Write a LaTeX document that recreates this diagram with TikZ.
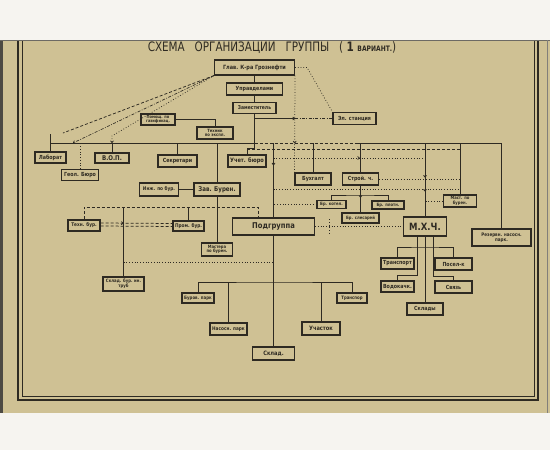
\documentclass[tikz,border=0pt]{standalone}
\usepackage{fontspec}
\usetikzlibrary{arrows.meta,decorations.markings}
\newfontfamily\bx[FakeStretch=0.85]{DejaVu Sans}
\newfontfamily\ttlfont[FakeStretch=0.8]{DejaVu Sans}
\definecolor{paper}{HTML}{CFC194}
\definecolor{ink}{HTML}{2E2A22}
\definecolor{pagew}{HTML}{F6F4F0}
\begin{document}
\begin{tikzpicture}[x=1pt,y=-1pt,
  box/.style={draw=ink, line width=1.1pt, fill=paper, inner sep=0pt, align=center, text=ink,
    font=\bx\bfseries\fontsize{5}{5.4}\selectfont},
  bb/.style={font=\bx\bfseries\fontsize{5.6}{6}\selectfont},
  ln/.style={draw=ink, line width=0.9pt},
  dl/.style={draw=ink, line width=0.75pt, dotted},
  dsh/.style={draw=ink, line width=0.75pt, dash pattern=on 3pt off 2pt},
  dd/.style={draw=ink, line width=0.65pt, dash pattern=on 3pt off 1.5pt on 0.8pt off 1.5pt},
  marr/.style={postaction={decorate,decoration={markings,mark=at position #1 with {\arrow{To[length=2.5pt,width=3.5pt]}}}}},
  tip/.style={-{To[length=2.5pt,width=3.5pt]}}
]
\useasboundingbox (0,0) rectangle (550,450);
% page
\fill[pagew] (0,0) rectangle (550,450);
\fill[paper] (0,40) rectangle (550,413);
\fill[ink!85] (0,40) rectangle (3,413);
\draw[ink!70, line width=0.8pt] (0,40.5) -- (550,40.5);
\draw[ink!60, line width=1pt] (547,40) -- (547,413);
% frame
\draw[ink, line width=1.3pt] (18,41) -- (18,400) -- (538,400) -- (538,41);
\draw[ink, line width=1pt] (22,41) -- (22,396) -- (534,396) -- (534,41);
% title
\node[font=\ttlfont\fontsize{13}{13}\selectfont, text=ink] (title) at (272,47.5)
  {СХЕМА\ \ \ ОРГАНИЗАЦИИ\ \ \ ГРУППЫ\ \ \ ( {\bfseries 1 \fontsize{7.5}{7.5}\selectfont ВАРИАНТ.})};
% nodes
\node[box,minimum width=80pt,minimum height=15pt,font=\bx\bfseries\fontsize{5.8}{6}\selectfont] (glav) at (254.5,67.5) {Глав. К-ра Грознефти};
\node[box,bb,minimum width=56pt,minimum height=12pt] (upr) at (254.5,89) {Управделами};
\node[box,bb,minimum width=43pt,minimum height=11pt,font=\bx\bfseries\fontsize{5.3}{6}\selectfont] (zam) at (254.5,108) {Заместитель};
\node[box,bb,minimum width=43pt,minimum height=12pt] (elst) at (354.5,118.5) {Эл. станция};
\node[box,minimum width=34pt,minimum height=11pt,font=\bx\bfseries\fontsize{4.2}{4.3}\selectfont] (pom) at (158,119.5) {Помощ. по\\газификац.};
\node[box,minimum width=36pt,minimum height=12pt,font=\bx\bfseries\fontsize{4.4}{4.6}\selectfont] (tech) at (215,133) {Техник\\по экспл.};
\node[box,bb,minimum width=31pt,minimum height=11pt] (lab) at (50.5,157.5) {Лаборат};
\node[box,bb,minimum width=37pt,minimum height=11pt] (geol) at (80,175) {Геол. Бюро};
\node[box,minimum width=34pt,minimum height=10pt,font=\bx\bfseries\fontsize{6.5}{6.5}\selectfont] (vop) at (112,158) {В.О.П.};
\node[box,bb,minimum width=39pt,minimum height=12pt] (sekr) at (177.5,161) {Секретари};
\node[box,minimum width=38pt,minimum height=12pt,font=\bx\bfseries\fontsize{6}{6}\selectfont] (uchet) at (247,161) {Учет. бюро};
\node[box,bb,minimum width=36pt,minimum height=12pt] (buh) at (313,179) {Бухгалт};
\node[box,bb,minimum width=36pt,minimum height=12pt] (stroy) at (360.5,179) {Строй. ч.};
\node[box,minimum width=39pt,minimum height=13pt] (inzh) at (159,189.5) {Инж. по бур.};
\node[box,minimum width=46pt,minimum height=13pt,font=\bx\bfseries\fontsize{6.5}{6.5}\selectfont] (zav) at (217,189.5) {Зав. Бурен.};
\node[box,minimum width=29pt,minimum height=8pt,font=\bx\bfseries\fontsize{4.4}{4.5}\selectfont] (brk) at (331.5,204.5) {Бр. котел.};
\node[box,minimum width=32pt,minimum height=8pt,font=\bx\bfseries\fontsize{4.4}{4.5}\selectfont] (brp) at (388,205) {Бр. плотн.};
\node[box,minimum width=37pt,minimum height=10pt,font=\bx\bfseries\fontsize{4.4}{4.5}\selectfont] (brs) at (360.5,218) {Бр. слесарей};
\node[box,minimum width=33pt,minimum height=12pt,font=\bx\bfseries\fontsize{4.4}{4.6}\selectfont] (mast) at (460,201) {Маст. по\\бурен.};
\node[box,minimum width=32pt,minimum height=11pt] (tehb) at (84,225.5) {Техн. бур.};
\node[box,minimum width=31pt,minimum height=10pt] (promb) at (188.5,226) {Пром. бур.};
\node[box,minimum width=82pt,minimum height=17pt,font=\bx\bfseries\fontsize{8}{8}\selectfont] (podg) at (273.5,226.5) {Подгруппа};
\node[box,minimum width=43pt,minimum height=19pt,font=\bx\bfseries\fontsize{10}{10}\selectfont] (mxch) at (425,226.5) {М.Х.Ч.};
\node[box,minimum width=59pt,minimum height=17pt,font=\bx\bfseries\fontsize{4.8}{5}\selectfont] (rezv) at (501.5,237.5) {Резервн. насосн.\\парк.};
\node[box,minimum width=31pt,minimum height=13pt,font=\bx\bfseries\fontsize{4.4}{4.6}\selectfont] (mastb) at (217,249.5) {Мастера\\по бурен.};
\node[box,minimum width=41pt,minimum height=14pt,font=\bx\bfseries\fontsize{4.5}{4.7}\selectfont] (sklbur) at (123.5,284) {Склад. бур. ин.\\труб};
\node[box,minimum width=32pt,minimum height=10pt,font=\bx\bfseries\fontsize{4.6}{4.7}\selectfont] (burp) at (198,298) {Буров. парк};
\node[box,minimum width=37pt,minimum height=12pt] (nasp) at (228.5,329) {Насосн. парк};
\node[box,minimum width=42pt,minimum height=13pt,font=\bx\bfseries\fontsize{6}{6}\selectfont] (sklad) at (273.5,353.5) {Склад.};
\node[box,minimum width=38pt,minimum height=13pt,font=\bx\bfseries\fontsize{6}{6}\selectfont] (uch) at (321,328.5) {Участок};
\node[box,minimum width=30pt,minimum height=10pt,font=\bx\bfseries\fontsize{4.6}{4.7}\selectfont] (trs) at (352,298) {Транспор};
\node[box,bb,minimum width=33pt,minimum height=11pt] (trp) at (397.5,263.5) {Транспорт};
\node[box,bb,minimum width=37pt,minimum height=12pt] (pos) at (453.5,264) {Посел-к};
\node[box,bb,minimum width=33pt,minimum height=11pt] (vod) at (397.5,286.5) {Водокачк.};
\node[box,bb,minimum width=37pt,minimum height=12pt] (svz) at (453.5,287) {Связь};
\node[box,bb,minimum width=36pt,minimum height=12pt] (sklady) at (425,309) {Склады};
% coordinates
\coordinate (busL) at (50.5,143);
\coordinate (busM) at (254.5,143);
\coordinate (busR) at (355,143);
\coordinate (zj) at (254.5,118.5);
\coordinate (zr) at (295,118.5);
\coordinate (zb) at (254.5,148);
\coordinate (d1) at (63,133);
\coordinate (d2) at (73,143);
\coordinate (d3a) at (112,136);
\coordinate (d3) at (112,143);
\coordinate (bus2) at (84,207);
\coordinate (p2) at (258,207);
\coordinate (q) at (123.5,262);
\coordinate (b3) at (273.5,282);
\coordinate (b4) at (425,247);
\coordinate (c1) at (417,275);
\coordinate (c2) at (433,276);
\coordinate (b5) at (360.5,195);
\coordinate (r1) at (273.5,158);
\coordinate (r2) at (273.5,189);
\coordinate (r3) at (247,149);
\coordinate (t1) at (329,219);
\coordinate (t2) at (329,235);
% main line
\draw[ln] (glav.south) -- (upr.north);
\draw[ln] (upr.south) -- (zam.north);
\draw[ln] (zam.south) -- (zb) -| (uchet.north);
\draw[ln,tip] (zj) -- (zr);
\draw[dd] (zr) -- (elst.west);
\draw[dl] (glav.east) -- ++(12,0) -- (elst.north west);
\draw[dl,marr=0.7] (glav.south east) -- (buh.north west);
% diagonals
\draw[dsh] (glav.south west) -- (d1);
\draw[dd,tip] (glav.south west) -- (d2);
\draw[dl,tip] (glav.south west) -- (d3a) -- (d3);
% top bus
\draw[ln] (busL) -- (busM);
\draw[dsh] (busM) -- (busR);
\draw[ln] (busR) -| (rezv.north);
\draw[ln] (lab.north) -- ++(0,-17);
\draw[dl] (geol.north) -- (geol.north |- busL);
\draw[ln] (vop.north) -- (vop.north |- busL);
\draw[ln] (sekr.north) -- (sekr.north |- busL);
\draw[ln] (zav.north) -- (zav.north |- busL);
\draw[ln,marr=0.3] (podg.north |- busL) -- (podg.north);
\draw[ln] (buh.north) -- (buh.north |- busL);
\draw[ln] (stroy.north) -- (stroy.north |- busL);
\draw[ln,marr=0.47,marr=0.66] (mxch.north |- busL) -- (mxch.north);
\draw[ln] (mast.north) -- (mast.north |- busL);
\draw[dsh] (r3) -- (r3 -| mast.north);
% left middle
\draw[ln] (pom.east) -| (tech.north);
\draw[ln] (inzh) -- (zav);
\draw[ln] (zav.south) -- (mastb.north);
\draw[dsh] (tehb.north) |- (p2) -- (p2 |- podg.north);
\draw[ln] (promb.north) -- (promb.north |- bus2);
\draw[ln] (sklbur.north) -- (sklbur.north |- bus2);
\draw[dsh,marr=0.32] ([yshift=2.5pt]tehb.east) -- ([yshift=2.5pt]promb.west);
\draw[dsh] ([yshift=-0.5pt]tehb.east) -- ([yshift=-0.5pt]promb.west);
\draw[dl] (q) -- (q -| podg.south);
% lower
\draw[ln] (podg.south) -- (sklad.north);
\draw[ln] (burp.north) |- (b3) -| (trs.north);
\draw[ln] (nasp.north) -- (nasp.north |- b3);
\draw[ln] (uch.north) -- (uch.north |- b3);
% right
\draw[ln,marr=0.45] (stroy.south) -- (brs.north);
\draw[ln] (brk.north) |- (b5) -| (brp.north);
\draw[dl,marr=0.57] (r1) -- (r1 -| mxch.north);
\draw[dl] (stroy.east) -- (stroy.east -| mast.north);
\draw[dl] (r2) -- (r2 -| mast.north);
\draw[dl] (brk.west) -- (brk.west -| podg.north);
\draw[dl] (mast.west) -- (mast.west -| mxch.north);
\draw[dl] (podg.east) -- (mxch.west);
\draw[dl] (t1) -- (t2);
\draw[ln] (mxch.south) -- (sklady.north);
\draw[ln] (trp.north) |- (b4) -| (pos.north);
\draw[ln] (vod.north) |- (c1) -- (c1 |- mxch.south);
\draw[ln] (svz.north) |- (c2) -- (c2 |- mxch.south);
\end{tikzpicture}
\end{document}
